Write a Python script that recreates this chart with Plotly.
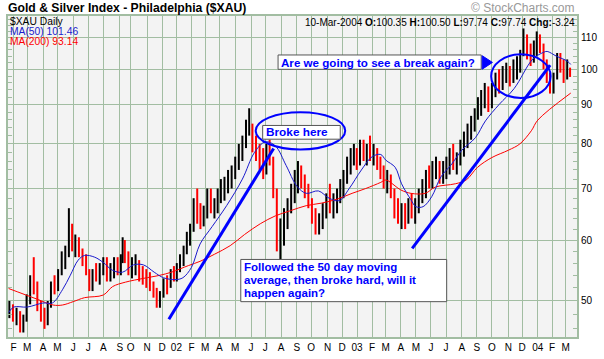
import numpy as np
import pandas as pd
import plotly.graph_objects as go

# ---------------- data (weekly bars) ----------------
week_start = "2001-01-22"
week_high = [50, 49.5, 49, 48.5, 48, 51, 54, 57, 53, 50,
             49, 50, 53, 54, 55, 58, 59, 66, 63, 61,
             60.5, 58.5, 57.5, 55, 55, 56, 56, 57, 57, 56,
             57, 57, 57.5, 60.5, 60, 58, 57, 57.5, 56.5, 55.5,
             55, 54.5, 53, 52, 51.5, 53.5, 54, 55, 55.5, 56,
             57.5, 59, 61.5, 63, 68, 70, 67, 66.5, 70, 70,
             68, 70, 72, 72.5, 74, 75, 77, 80, 82, 86,
             89, 85, 82, 80, 79, 80, 81, 77, 70, 64,
             66, 68, 71, 74, 76, 75, 73, 71, 68, 66,
             65, 67, 69, 71, 69, 70, 72, 74, 77, 79,
             80, 79,
             81, 81, 80, 82, 80, 79, 77, 75, 74, 73,
             70, 68, 67, 67, 68, 69, 68, 70, 72, 74,
             75, 76, 77, 76, 76, 77, 79, 80, 78, 81,
             83, 85, 87, 89, 92, 94, 96, 95, 96, 99,
             100, 101, 102, 101, 103, 104, 106, 113, 111, 108,
             109, 112,
             111, 108, 103, 99, 99, 105, 105, 103, 103, 100.5]
week_low = [47.5, 47, 46.5, 45.5, 45.5, 47, 49.5, 51, 48.5, 47,
            46, 46.5, 49, 51, 51.5, 54, 55, 57, 58, 57,
            57, 55.5, 54, 51.5, 51.5, 53, 52.5, 54, 53, 53,
            53.5, 54, 54, 56, 56, 54, 53.5, 54, 53, 52.5,
            52, 51.5, 50.5, 49, 49, 50.5, 51, 52, 53, 53,
            54.5, 55.5, 57.5, 59, 61.5, 63, 62, 62.5, 64, 65,
            64, 65, 67, 67.5, 69, 70, 72, 74, 76, 79,
            82, 78, 76, 74, 72, 73, 75, 68, 58, 56.5,
            59, 62, 65, 67, 69, 70, 68, 66, 63, 61,
            61, 62, 64, 65, 64, 65, 67, 68, 71, 73,
            75, 74,
            75, 76, 75, 76, 75, 74, 72, 70, 69, 68,
            64, 63, 62, 62, 63, 64, 63, 65, 67, 68,
            70, 70, 72, 71, 71, 72, 73, 74, 73, 75,
            77, 79, 81, 83, 86, 87, 89, 88, 89, 92,
            93, 94, 96, 95, 96, 97, 99, 104, 103, 101,
            102, 104,
            105, 100, 96, 93, 93, 97, 99, 96, 97, 97.74]
week_close = [49, 47.5, 48, 46, 47.5, 50.5, 53, 52, 49, 48,
              46.5, 49.5, 52.5, 52, 54.5, 56, 58, 60, 59, 60,
              58, 56, 55, 53, 54.5, 54, 55.5, 56, 54, 55,
              56, 55, 56.5, 58, 57, 55, 55, 56, 54, 53.5,
              53, 52, 51, 50, 51, 53, 52.5, 54.5, 54, 55.5,
              57, 58.5, 60.5, 62, 66.5, 64, 63.5, 65.5, 68, 66,
              66.5, 69, 70, 71.5, 72, 74, 76, 79, 80, 84,
              85, 80, 78, 77, 74, 78, 76, 69, 60, 61,
              63, 66, 69, 72, 74, 71, 70, 67, 64, 62,
              64, 65, 68, 66, 67, 69, 70, 73, 76, 77,
              79, 76,
              80, 78, 79, 78, 79, 75, 73, 71, 72, 69,
              65, 64, 66, 63, 67, 65, 66, 69, 70, 73,
              72, 74, 75, 73, 75, 76, 78, 75, 77, 80,
              81, 84, 85, 88, 90, 92, 94, 90, 95, 97,
              96, 99, 100, 97, 101, 102, 104, 109, 106, 104,
              107, 110,
              108, 101, 97, 95, 97, 103, 101, 98, 100.5, 97.74]

ma50_dates = ["2001-01-23", "2001-02-01", "2001-03-01", "2001-04-02", "2001-04-20",
              "2001-05-10", "2001-05-25", "2001-06-12", "2001-06-25", "2001-07-15",
              "2001-08-01", "2001-08-20", "2001-09-10", "2001-10-05", "2001-10-25",
              "2001-11-15", "2001-12-05", "2001-12-28", "2002-01-15", "2002-02-01",
              "2002-02-20", "2002-03-15", "2002-04-15", "2002-05-15", "2002-06-10",
              "2002-07-01", "2002-07-20", "2002-08-10", "2002-09-01", "2002-09-20",
              "2002-10-15", "2002-11-05", "2002-11-25", "2002-12-15", "2003-01-10",
              "2003-02-01", "2003-02-20", "2003-03-03", "2003-03-20", "2003-04-02",
              "2003-04-22", "2003-05-01", "2003-05-15", "2003-06-03", "2003-06-20",
              "2003-07-14", "2003-08-01", "2003-08-28", "2003-09-18", "2003-10-15",
              "2003-11-13", "2003-12-22", "2004-01-14", "2004-01-22", "2004-02-10",
              "2004-03-03", "2004-03-10"]
ma50_vals = [48.3, 49.1, 49.1, 49.7, 49.7,
             51.7, 54.0, 56.5, 57.3, 57.0,
             56.1, 54.8, 54.5, 55.7, 55.7,
             54.5, 53.6, 53.3, 53.6, 55.3,
             59.3, 62.5, 66.5, 72.0, 78.0,
             80.5, 79.5, 75.0, 70.5, 69.0,
             69.5, 68.0, 67.5, 70.0, 74.0,
             77.0, 77.5, 76.2, 74.6, 71.0,
             67.7, 66.3, 66.3, 68.3, 72.5,
             75.3, 78.5, 81.5, 85.7, 90.0,
             94.4, 103.1, 105.2, 105.5, 104.0,
             102.5, 101.46]

ma200_dates = ["2001-01-23", "2001-03-20", "2001-04-23", "2001-05-10", "2001-06-01",
               "2001-06-25", "2001-08-01", "2001-08-20", "2001-09-20", "2001-10-25",
               "2001-11-28", "2001-12-20", "2002-01-27", "2002-02-20", "2002-03-20",
               "2002-04-20", "2002-05-20", "2002-06-20", "2002-07-20", "2002-08-20",
               "2002-09-20", "2002-10-20", "2002-11-20", "2002-12-20", "2003-01-20",
               "2003-02-20", "2003-03-03", "2003-04-01", "2003-04-22", "2003-05-20",
               "2003-06-10", "2003-07-20", "2003-08-10", "2003-09-03", "2003-10-01",
               "2003-11-01", "2003-11-25", "2003-12-18", "2004-01-02", "2004-03-10"]
ma200_vals = [51.9, 50.3, 49.4, 49.4, 49.9,
              50.5, 50.9, 52.2, 52.9, 53.5,
              54.0, 54.5, 55.6, 56.3, 57.5,
              59.0, 61.0, 63.0, 64.5, 65.5,
              66.5, 67.0, 67.8, 69.0, 70.0,
              71.3, 71.8, 69.7, 69.0, 69.0,
              70.3, 71.0, 71.8, 74.6, 76.8,
              78.5, 80.0, 83.2, 85.9, 93.14]

month_labels = ["F", "M", "A", "M", "J", "J", "A", "S", "O", "N", "D",
                "02", "F", "M", "A", "M", "J", "J", "A", "S", "O", "N", "D",
                "03", "F", "M", "A", "M", "J", "J", "A", "S", "O", "N", "D",
                "04", "F", "M"]
y_ticks = [50, 60, 70, 80, 90, 100, 110]
y_minor = [46, 48, 52, 54, 56, 58, 62, 64, 66, 68, 72, 74, 76, 78, 82, 84, 86, 88,
           92, 94, 96, 98, 102, 104, 106, 108, 112, 114, 116]

holidays = ["2001-01-01", "2001-01-15", "2001-02-19", "2001-04-13", "2001-05-28",
            "2001-07-04", "2001-09-03", "2001-09-11", "2001-09-12", "2001-09-13",
            "2001-09-14", "2001-11-22", "2001-12-25",
            "2002-01-01", "2002-01-21", "2002-02-18", "2002-03-29", "2002-05-27",
            "2002-07-04", "2002-09-02", "2002-11-28", "2002-12-25",
            "2003-01-01", "2003-01-20", "2003-02-17", "2003-04-18", "2003-05-26",
            "2003-07-04", "2003-09-01", "2003-11-27", "2003-12-25",
            "2004-01-01", "2004-01-19", "2004-02-16"]

# ---------------- trading-day scale ----------------
days = pd.bdate_range("2001-01-02", "2004-03-10")
days = days[~days.isin(pd.to_datetime(holidays))]
dvals = days.values


def pos(d):
    return float(np.searchsorted(dvals, np.datetime64(pd.Timestamp(d))))


weeks = pd.date_range(week_start, periods=len(week_high), freq="W-MON")
week_x = []
for m in weeks:
    sel = np.where((days >= m) & (days < m + pd.Timedelta(days=5)))[0]
    week_x.append(float(sel.mean()))

month_starts = pd.date_range("2001-02-01", "2004-03-01", freq="MS")
tick_x = [pos(d) for d in month_starts]

# pixel geometry of the plot area
W, H = 604, 359
L, R, T, B = 6, 26, 16, 16
PW, PH = W - L - R, H - T - B
k = (566.7 - 11.7) / (tick_x[-1] - tick_x[0])
x0 = tick_x[0] - (11.7 - L) / k
x1 = tick_x[-1] + (W - R - 566.7) / k
y_lo = 2 - (343 - 70.3) / 784
y_hi = 2 + (70.3 - 16) / 784


def px(x):
    return (x - L) / PW


def py(y):
    return (H - B - y) / PH


# ---------------- bars ----------------
up_x, up_y, dn_x, dn_y = [], [], [], []
prev = None
for xx, hi, lo, cl in zip(week_x, week_high, week_low, week_close):
    up = prev is None or cl >= prev
    tx, ty = (up_x, up_y) if up else (dn_x, dn_y)
    tx += [xx, xx, None]
    ty += [lo, hi, None]
    prev = cl

fig = go.Figure()
fig.add_trace(go.Scatter(x=up_x, y=up_y, mode="lines",
                         line=dict(color="black", width=2), hoverinfo="skip"))
fig.add_trace(go.Scatter(x=dn_x, y=dn_y, mode="lines",
                         line=dict(color="#ff0000", width=2), hoverinfo="skip"))
fig.add_trace(go.Scatter(x=[pos(d) for d in ma200_dates], y=ma200_vals, mode="lines",
                         line=dict(color="#ff0000", width=1, shape="spline"), hoverinfo="skip"))
fig.add_trace(go.Scatter(x=[pos(d) for d in ma50_dates], y=ma50_vals, mode="lines",
                         line=dict(color="#1a1acc", width=1, shape="spline"), hoverinfo="skip"))

grid = "#a2bda2"
fig.update_layout(
    width=W, height=H, margin=dict(l=L, r=R, t=T, b=B),
    paper_bgcolor="white", plot_bgcolor="#f3f3f3", showlegend=False,
    font=dict(family="Liberation Sans, Arial, sans-serif", color="black"),
    xaxis=dict(range=[x0, x1], tickvals=tick_x, ticktext=month_labels,
               showgrid=True, gridcolor=grid, gridwidth=1, zeroline=False,
               showline=True, linecolor=grid, linewidth=2, mirror=True,
               ticks="", tickfont=dict(size=10)),
    yaxis=dict(type="log", range=[y_lo, y_hi], side="right",
               tickvals=y_ticks, ticktext=[str(v) for v in y_ticks],
               showgrid=True, gridcolor=grid, gridwidth=1, zeroline=False,
               showline=True, linecolor=grid, linewidth=2, mirror="allticks",
               ticks="inside", ticklen=4, tickcolor=grid,
               minor=dict(tickvals=y_minor, ticks="inside", ticklen=4, tickcolor=grid,
                          showgrid=False),
               tickfont=dict(size=10)),
)

blue = "#0000ff"
shapes = []
# trend lines
shapes.append(dict(type="line", xref="paper", yref="paper",
                   x0=px(167.7), y0=py(325), x1=px(273), y1=py(151),
                   line=dict(color=blue, width=3)))
shapes.append(dict(type="line", xref="paper", yref="paper",
                   x0=px(412.3), y0=py(252.7), x1=px(551), y1=py(66),
                   line=dict(color=blue, width=3)))
# ellipses
shapes.append(dict(type="circle", xref="paper", yref="paper",
                   x0=px(255), x1=px(345), y0=py(152), y1=py(114),
                   line=dict(color=blue, width=2)))
shapes.append(dict(type="circle", xref="paper", yref="paper",
                   x0=px(491.7), x1=px(551.5), y0=py(99.5), y1=py(55),
                   line=dict(color=blue, width=2)))
# boxes
for (bx0, by0, bx1, by1) in [(262, 127.5, 340, 141.5), (277.5, 55.7, 481.7, 70.3),
                             (240, 264, 447, 307)]:
    shapes.append(dict(type="rect", xref="paper", yref="paper",
                       x0=px(bx0), x1=px(bx1), y0=py(by1), y1=py(by0),
                       fillcolor="white", line=dict(color="#555555", width=1)))
# arrow head
shapes.append(dict(type="path", xref="paper", yref="paper",
                   path="M {} {} L {} {} L {} {} Z".format(px(482.7), py(56.5), px(493), py(63.3),
                                                          px(482.7), py(70.2)),
                   fillcolor=blue, line=dict(color=blue, width=1)))
fig.update_layout(shapes=shapes)

ann = []


def text(x, y, s, size, color="black", anchor="left"):
    ann.append(dict(xref="paper", yref="paper", x=px(x), y=py(y), text=s,
                    showarrow=False, xanchor=anchor, yanchor="middle",
                    font=dict(size=size, color=color,
                              family="Liberation Sans, Arial, sans-serif"),
                    borderpad=0))


text(5, 8, "<b>Gold &amp; Silver Index - Philadelphia ($XAU)</b>", 12.2)
text(577, 7.5, "© StockCharts.com", 12, color="#999999", anchor="right")
text(577, 22.3, "10-Mar-2004 <b>O:</b>100.35 <b>H:</b>100.50 <b>L:</b>97.74 "
                "<b>C:</b>97.74 <b>Chg:</b>-3.24", 10, anchor="right")
text(7.5, 21.5, "$XAU Daily", 10.3)
text(7.5, 31.8, "MA(50) 101.46", 10.3, color="#1a1acc")
text(7.5, 42, "MA(200) 93.14", 10.3, color="#ff0000")
text(264.5, 134.5, "<b>Broke here</b>", 11.8, color=blue)
text(279.5, 63, "<b>Are we going to see a break again?</b>", 11.6, color=blue)
text(242, 271.7, "<b>Followed the 50 day moving</b>", 11.5, color=blue)
text(242, 285, "<b>average, then broke hard, will it</b>", 11.5, color=blue)
text(242, 298.3, "<b>happen again?</b>", 11.5, color=blue)
fig.update_layout(annotations=ann)

fig.write_html("out.html",
               config={"displayModeBar": False},
               post_script="document.body.style.margin='0px';"
                           "document.body.style.overflow='hidden';")
